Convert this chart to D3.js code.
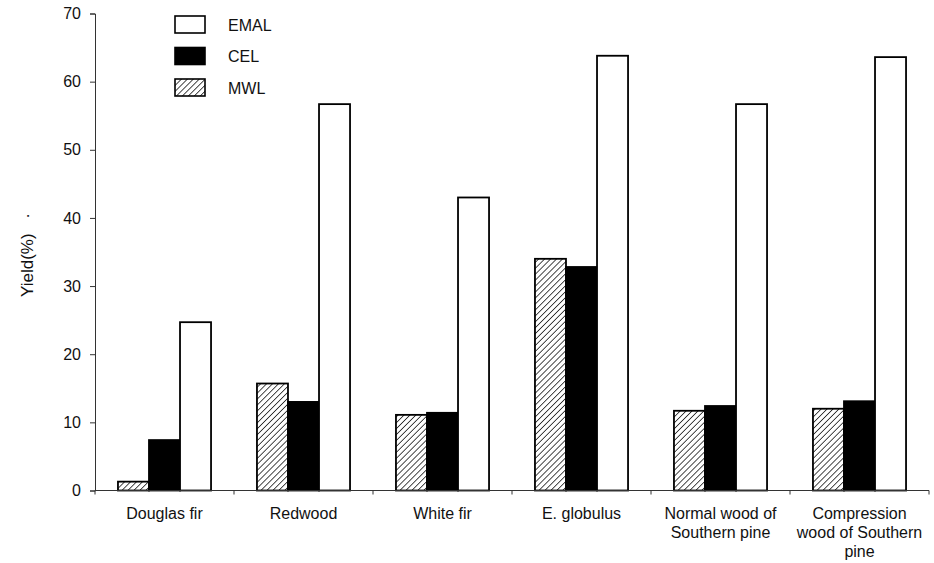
<!DOCTYPE html>
<html>
<head>
<meta charset="utf-8">
<script src="https://cdn.jsdelivr.net/npm/d3@7"></script>
<style>
  html, body { margin: 0; padding: 0; background: #fff; }
  text { font-family: "Liberation Sans", Arial, sans-serif; fill: #111; }
</style>
</head>
<body>
<svg id="chart" width="934" height="563"></svg>
<script>
// Lignin yield by isolation method for each wood species
const categories = [
  ["Douglas fir"],
  ["Redwood"],
  ["White fir"],
  ["E. globulus"],
  ["Normal wood of", "Southern pine"],
  ["Compression", "wood of Southern", "pine"]
];
const seriesNames = ["MWL", "CEL", "EMAL"];
const mwl  = [1.3, 15.7, 11.1, 34.0, 11.7, 12.0];
const cel  = [7.4, 13.0, 11.4, 32.8, 12.4, 13.1];
const emal = [24.7, 56.7, 43.0, 63.8, 56.7, 63.6];
const yTicks = [0, 10, 20, 30, 40, 50, 60, 70];
const legendOrder = ["EMAL", "CEL", "MWL"];

const values = { MWL: mwl, CEL: cel, EMAL: emal };

const svg = d3.select("#chart");
const margin = { left: 95, right: 5, top: 13.5, bottom: 72.5 };
const W = 934, H = 563;

// hatch pattern for MWL
const defs = svg.append("defs");
const pat = defs.append("pattern")
  .attr("id", "hatch")
  .attr("patternUnits", "userSpaceOnUse")
  .attr("width", 4.2).attr("height", 4.2)
  .attr("patternTransform", "rotate(45)");
pat.append("rect").attr("width", 4.2).attr("height", 4.2).attr("fill", "#fff");
pat.append("line")
  .attr("x1", 0).attr("y1", 0).attr("x2", 0).attr("y2", 4.2)
  .attr("stroke", "#111").attr("stroke-width", 1.5);

const fills = { MWL: "url(#hatch)", CEL: "#000", EMAL: "#fff" };

const x0 = d3.scaleBand()
  .domain(d3.range(categories.length))
  .range([margin.left, W - margin.right])
  .paddingInner(0).paddingOuter(0);

const x1 = d3.scaleBand()
  .domain(seriesNames)
  .range([0, x0.bandwidth()])
  .paddingOuter(0.74).paddingInner(0);

const y = d3.scaleLinear()
  .domain([0, 70])
  .range([H - margin.bottom, margin.top]);

// bars
const groups = svg.append("g").selectAll("g")
  .data(categories)
  .join("g")
  .attr("transform", (d, i) => `translate(${x0(i)},0)`);

groups.selectAll("rect")
  .data((d, i) => seriesNames.map(s => ({ s, v: values[s][i] })))
  .join("rect")
  .attr("x", d => x1(d.s))
  .attr("width", x1.bandwidth())
  .attr("y", d => y(d.v))
  .attr("height", d => y(0) - y(d.v))
  .attr("fill", d => fills[d.s])
  .attr("stroke", "#000")
  .attr("stroke-width", 1.8);

// y axis
const yAxis = svg.append("g")
  .attr("transform", `translate(${margin.left},0)`)
  .call(d3.axisLeft(y).tickValues(yTicks).tickSize(5).tickPadding(9));
yAxis.selectAll("text").style("font-size", "16px");
yAxis.selectAll("line, path").attr("stroke", "#333");

// x axis: ticks at category boundaries
const xAxisG = svg.append("g").attr("transform", `translate(0,${y(0)})`);
xAxisG.append("line")
  .attr("x1", margin.left).attr("x2", W - margin.right)
  .attr("stroke", "#333");
xAxisG.selectAll("line.tick")
  .data(d3.range(categories.length + 1))
  .join("line")
  .attr("class", "tick")
  .attr("x1", i => margin.left + i * x0.step())
  .attr("x2", i => margin.left + i * x0.step())
  .attr("y1", 0).attr("y2", 4)
  .attr("stroke", "#333");

const labels = svg.append("g").selectAll("text")
  .data(categories)
  .join("text")
  .attr("text-anchor", "middle")
  .style("font-size", "16px")
  .attr("transform", (d, i) => `translate(${x0(i) + x0.bandwidth() / 2},${y(0) + 28})`);
labels.selectAll("tspan")
  .data(d => d)
  .join("tspan")
  .attr("x", 0)
  .attr("dy", (d, i) => i === 0 ? 0 : 19)
  .text(d => d);

// y axis title
svg.append("text")
  .attr("transform", "translate(33,297) rotate(-90)")
  .attr("text-anchor", "start")
  .style("font-size", "17px")
  .text("Yield(%)");
svg.append("text")
  .attr("transform", "translate(33,216) rotate(-90)")
  .attr("text-anchor", "middle")
  .style("font-size", "17px")
  .text("·");

// legend
const legend = svg.append("g").selectAll("g")
  .data(legendOrder)
  .join("g")
  .attr("transform", (d, i) => `translate(175,${16 + i * 31.5})`);
legend.append("rect")
  .attr("width", 30).attr("height", 17)
  .attr("fill", d => fills[d])
  .attr("stroke", "#000").attr("stroke-width", 1.6);
legend.append("text")
  .attr("x", 53).attr("y", 9)
  .attr("dy", "0.35em")
  .style("font-size", "16px")
  .text(d => d);
</script>
</body>
</html>
